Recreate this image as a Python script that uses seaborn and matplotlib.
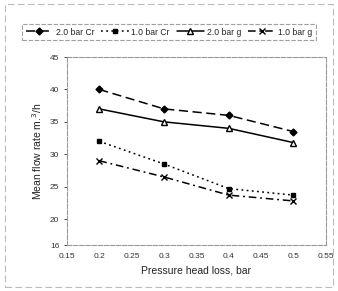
import numpy as np
import pandas as pd
import matplotlib
matplotlib.use('Agg')
import matplotlib.pyplot as plt
import seaborn as sns
from matplotlib.patches import Rectangle

# 数据
head_loss = [0.2, 0.3, 0.4, 0.5]
cr_2bar = [40.0, 37.0, 36.0, 33.5]
cr_1bar = [32.0, 28.5, 24.7, 23.7]
g_2bar = [37.0, 35.0, 34.0, 31.8]
g_1bar = [29.0, 26.5, 23.7, 22.8]

series_names = ['2.0 bar Cr', '1.0 bar Cr', '2.0 bar g', '1.0 bar g']
x_ticks = [0.15, 0.2, 0.25, 0.3, 0.35, 0.4, 0.45, 0.5, 0.55]
x_tick_labels = ['0.15', '0.2', '0.25', '0.3', '0.35', '0.4', '0.45', '0.5', '0.55']
y_ticks = [16, 20, 25, 30, 35, 40, 45]

df = pd.DataFrame({
    'x': head_loss * 4,
    'y': cr_2bar + cr_1bar + g_2bar + g_1bar,
    'series': np.repeat(series_names, len(head_loss)),
})

sns.set_style('white')
plt.rcParams['font.family'] = ['Liberation Sans', 'DejaVu Sans']

fig = plt.figure(figsize=(3.38, 2.91), dpi=100)
ax = fig.add_axes([0.198, 0.158, 0.766, 0.646])

styles = {
    '2.0 bar Cr': dict(ls=(0, (6, 3)), marker='D', ms=3.5, mfc='black'),
    '1.0 bar Cr': dict(ls=(0, (1.2, 2.2)), marker='s', ms=3.5, mfc='black'),
    '2.0 bar g': dict(ls='-', marker='^', ms=4.5, mfc='white'),
    '1.0 bar g': dict(ls=(0, (5, 2.5, 1.2, 2.5)), marker='x', ms=5, mfc='black'),
}

for name in series_names:
    sub = df[df['series'] == name]
    st = styles[name]
    sns.lineplot(data=sub, x='x', y='y', ax=ax, color='black', lw=1.1,
                 linestyle=st['ls'], marker=st['marker'], markersize=st['ms'],
                 markerfacecolor=st['mfc'], markeredgecolor='black',
                 markeredgewidth=1.0, label=name, legend=False)

ax.set_xlim(0.15, 0.55)
ax.set_ylim(16, 45)
ax.set_xticks(x_ticks)
ax.set_xticklabels(x_tick_labels)
ax.set_yticks(y_ticks)
ax.tick_params(axis='both', labelsize=6, colors='#333333', length=2, width=0.6)
ax.tick_params(axis='y', left=True)
ax.set_xlabel('Pressure head loss, bar', fontsize=7.5, color='#222222')
ax.set_ylabel('Mean flow rate m.$^3$/h', fontsize=7.5, color='#222222')

for side in ax.spines.values():
    side.set_color('#999999')
    side.set_linewidth(0.8)
    side.set_linestyle((0, (4, 1.5)))

handles, labels = ax.get_legend_handles_labels()
leg = fig.legend(handles, labels, loc='center', bbox_to_anchor=(0.5, 0.89),
                 ncol=4, fontsize=6.2, frameon=True, handlelength=3.2,
                 columnspacing=0.8, handletextpad=0.3, borderpad=0.35)
leg.get_frame().set_edgecolor('#888888')
leg.get_frame().set_linestyle((0, (4, 1.5)))
leg.get_frame().set_linewidth(0.8)
leg.get_frame().set_boxstyle('square', pad=0.0)

fig.patches.append(Rectangle((0.015, 0.015), 0.97, 0.97, transform=fig.transFigure,
                             fill=False, ec='#bbbbbb', lw=0.8, ls=(0, (6, 3))))

plt.savefig('out.png', dpi=100)
plt.close()
